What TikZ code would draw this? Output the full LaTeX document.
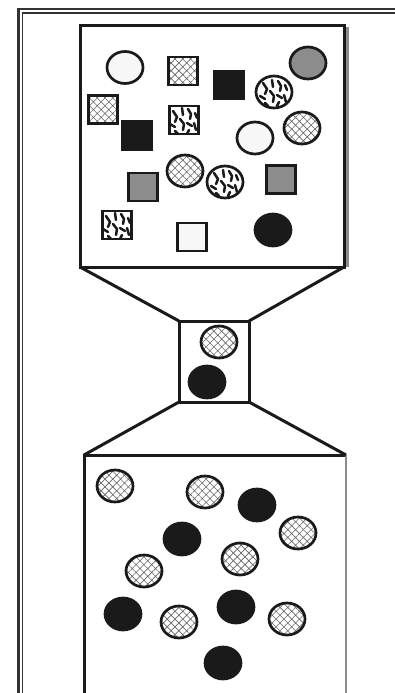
\documentclass[tikz,border=0pt]{standalone}
\usetikzlibrary{shapes.geometric,patterns.meta}
\definecolor{blk}{HTML}{1A1A1A}
\definecolor{gry}{HTML}{8C8C8C}
\definecolor{wht}{HTML}{F7F7F7}
\tikzset{
  every node/.style={inner sep=0pt, outer sep=0pt},
  obj/.style={draw=blk, line width=2.7pt},
  circ/.style={obj, ellipse, minimum width=36pt, minimum height=32pt},
  sq/.style={obj, rectangle, minimum width=29pt, minimum height=28pt},
  wfill/.style={fill=wht},
  dfill/.style={fill=blk},
  gfill/.style={fill=gry},
  hatch/.style={pattern={Hatch[angle=45,distance=5.5pt,line width=0.6pt]}, pattern color=black!60},
  squig/.style={fill=white, path picture={
      \begin{scope}[shift={(path picture bounding box.center)}, line width=2.5pt, line cap=round, line join=round, draw=blk]
        \draw (-11,-9) -- (-7,-3) -- (-9,2);
        \draw (-2,-12) -- (-1,-5);
        \draw (4,-11) -- (7,-6) -- (6,-1);
        \draw (11,-7) -- (13,-2);
        \draw (-14,4) -- (-9,7);
        \draw (-4,-1) -- (0,4) -- (-1,10);
        \draw (3,3) -- (8,6);
        \draw (10,3) -- (12,10);
        \draw (-9,11) -- (-6,14);
        \draw (5,10) -- (3,14);
      \end{scope}}},
  boxline/.style={draw=blk, line width=3pt},
  shadow/.style={draw=black!45, line width=2.6pt},
  frameout/.style={draw=black!80, line width=2.4pt},
  framein/.style={draw=black!80, line width=1.1pt}
}
\begin{document}
\begin{tikzpicture}[x=1pt, y=-1pt]
\useasboundingbox (0,0) rectangle (395,693);
\fill[fill=white] (0,0) rectangle (395,693);
% outer frame
\draw[frameout] (18.5,693) -- (18.5,9) -- (395,9);
\draw[framein] (22.5,693) -- (22.5,13) -- (395,13);

% boxes
\node[boxline, rectangle, minimum width=264pt, minimum height=241pt] (topbox) at (212,146.5) {};
\draw[shadow] ([xshift=3.5pt,yshift=-1.5pt]topbox.north east) -- ([xshift=3.5pt]topbox.south east);
\node[boxline, rectangle, minimum width=70pt, minimum height=81pt] (midbox) at (214,361.5) {};
\node[rectangle, minimum width=262pt, minimum height=265pt] (botbox) at (215,587.5) {};
\draw[boxline] (botbox.south west) -- (botbox.north west) -- (botbox.north east);
\draw[shadow] (botbox.north east) -- (botbox.south east);

% funnel
\draw[boxline] (topbox.south west) -- (midbox.north west);
\draw[boxline] (topbox.south east) -- (midbox.north east);
\draw[boxline] (midbox.south west) -- (botbox.north west);
\draw[boxline] (midbox.south east) -- (botbox.north east);

% top box contents
\node[circ, wfill] (t1) at (125,67.5) {};
\node[sq, hatch] (t2) at (183,71) {};
\node[sq, dfill] (t3) at (229,85) {};
\node[circ, squig] (t4) at (274,92) {};
\node[circ, gfill] (t5) at (308,63) {};
\node[sq, hatch] (t6) at (103,109.5) {};
\node[sq, squig] (t7) at (184,120) {};
\node[sq, dfill] (t8) at (137,135.5) {};
\node[circ, wfill] (t9) at (255,138) {};
\node[circ, hatch] (t10) at (302,128) {};
\node[circ, hatch] (t11) at (185,171) {};
\node[circ, squig] (t12) at (225,182) {};
\node[sq, gfill] (t13) at (143,187) {};
\node[sq, gfill] (t14) at (281,179.5) {};
\node[sq, squig] (t15) at (117,225) {};
\node[sq, wfill] (t16) at (192,237) {};
\node[circ, dfill] (t17) at (273,230) {};

% middle box contents
\node[circ, hatch] (m1) at (219,342) {};
\node[circ, dfill] (m2) at (207,382) {};

% bottom box contents
\node[circ, hatch] (b1) at (115,486) {};
\node[circ, hatch] (b2) at (205,492) {};
\node[circ, dfill] (b3) at (257,505) {};
\node[circ, hatch] (b4) at (298,533) {};
\node[circ, dfill] (b5) at (182,539) {};
\node[circ, hatch] (b6) at (240,559) {};
\node[circ, hatch] (b7) at (144,571) {};
\node[circ, dfill] (b8) at (123,614) {};
\node[circ, hatch] (b9) at (179,622) {};
\node[circ, dfill] (b10) at (236,607) {};
\node[circ, hatch] (b11) at (287,619) {};
\node[circ, dfill] (b12) at (223,663) {};
\end{tikzpicture}
\end{document}
